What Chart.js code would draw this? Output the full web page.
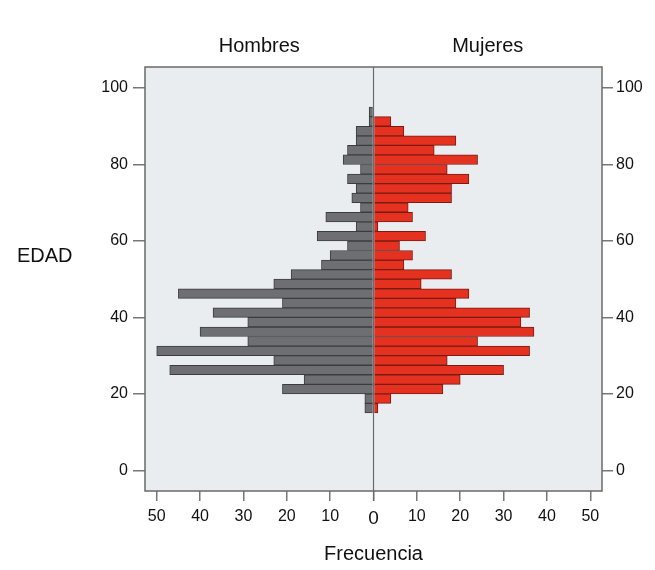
<!DOCTYPE html>
<html>
<head>
<meta charset="utf-8">
<script src="https://cdn.jsdelivr.net/npm/chart.js@4"></script>
<style>
  html, body { margin: 0; padding: 0; background: #fff; }
  #wrap { width: 655px; height: 570px; }
</style>
</head>
<body>
<div id="wrap"><canvas id="chart" width="655" height="570"></canvas></div>
<script>
// age bins of 2.5 years, lower edge of each bin
const edades = [15, 17.5, 20, 22.5, 25, 27.5, 30, 32.5, 35, 37.5, 40, 42.5, 45, 47.5, 50, 52.5,
                55, 57.5, 60, 62.5, 65, 67.5, 70, 72.5, 75, 77.5, 80, 82.5, 85, 87.5, 90, 92.5];
const hombres = [2, 2, 21, 16, 47, 23, 50, 29, 40, 29, 37, 21, 45, 23, 19, 12,
                 10, 6, 13, 4, 11, 3, 5, 4, 6, 3, 7, 6, 4, 4, 1, 1];
const mujeres = [1, 4, 16, 20, 30, 17, 36, 24, 37, 34, 36, 19, 22, 11, 18, 7,
                 9, 6, 12, 1, 9, 8, 18, 18, 22, 17, 24, 14, 19, 7, 4, 0];
const pasoEdad = 20;
const pasoFrec = 10;
const grupos = ['Hombres', 'Mujeres'];

const FONT = '"Liberation Sans", Arial, sans-serif';

const fondo = {
    id: 'fondo',
    beforeDraw(chart) {
        const { ctx, chartArea: a } = chart;
        ctx.save();
        ctx.fillStyle = '#eaedf0';
        ctx.fillRect(a.left, a.top, a.right - a.left, a.bottom - a.top);
        ctx.restore();
    },
    afterDraw(chart) {
        const { ctx, chartArea: a, scales } = chart;
        ctx.save();
        // zero line
        const x0 = scales.x.getPixelForValue(0);
        ctx.lineWidth = 1.2;
        ctx.strokeStyle = '#6a6a6a';
        ctx.beginPath();
        ctx.moveTo(x0, a.top);
        ctx.lineTo(x0, a.bottom + 10);
        ctx.stroke();
        ctx.lineWidth = 1.5;
        ctx.strokeRect(a.left, a.top, a.right - a.left, a.bottom - a.top);
        // group titles
        ctx.fillStyle = '#111';
        ctx.font = '20px ' + FONT;
        ctx.textAlign = 'center';
        ctx.textBaseline = 'middle';
        ctx.fillText(grupos[0], (a.left + x0) / 2, 46);
        ctx.fillText(grupos[1], (x0 + a.right) / 2, 46);
        // y title
        ctx.font = '20px ' + FONT;
        ctx.textAlign = 'left';
        ctx.fillText('EDAD', 17, 256);
        ctx.restore();
    }
};

const ejeEdad = (pos, ancho, largo, pad) => ({
    type: 'linear',
    position: pos,
    min: -5.4,
    max: 105.5,
    offset: false,
    afterFit: s => { s.width = ancho; },
    ticks: { stepSize: pasoEdad, includeBounds: false, autoSkip: false, color: '#111', font: { family: FONT, size: 16 }, padding: pad },
    grid: { offset: false, drawOnChartArea: false, tickLength: largo, tickColor: '#777', lineWidth: 1.5 },
    border: { display: false },
});

const elm = document.getElementById('chart');
new Chart(elm, {
    type: 'bar',
    data: {
        datasets: [
            {
                label: grupos[0],
                data: edades.map((e, i) => ({ y: e + 1.25, x: -hombres[i] })),
                backgroundColor: '#6e6f72',
                borderColor: '#3c3c3e',
                borderWidth: 1,
                grouped: false,
            },
            {
                label: grupos[1],
                data: edades.map((e, i) => ({ y: e + 1.25, x: mujeres[i] })),
                backgroundColor: '#e5311f',
                borderColor: '#7a1b12',
                borderWidth: 1,
                grouped: false,
            },
        ]
    },
    plugins: [fondo],
    options: {
        indexAxis: 'y',
        responsive: false,
        animation: false,
        categoryPercentage: 1,
        barPercentage: 1,
        layout: { padding: { top: 67, left: 0, right: 0, bottom: 0 } },
        plugins: { legend: { display: false }, tooltip: { enabled: false } },
        scales: {
            x: {
                type: 'linear',
                min: -52.7,
                max: 52.7,
                afterFit: s => { s.height = 79; },
                ticks: {
                    stepSize: pasoFrec,
                    includeBounds: false,
                    callback: v => Math.abs(v),
                    color: '#111',
                    font: ctx => ({ family: FONT, size: ctx.tick && ctx.tick.value === 0 ? 19 : 16 }),
                    padding: 6,
                    maxRotation: 0,
                    autoSkip: false,
                },
                grid: { drawOnChartArea: false, tickLength: 10, tickColor: '#777', lineWidth: 1.5 },
                border: { display: false },
                title: { display: true, text: 'Frecuencia', color: '#111', font: { family: FONT, size: 20 }, padding: { top: 5 } },
            },
            y: ejeEdad('left', 145, 12, 5),
            y2: ejeEdad('right', 53, 11, 3),
        },
    }
});
</script>
</body>
</html>
